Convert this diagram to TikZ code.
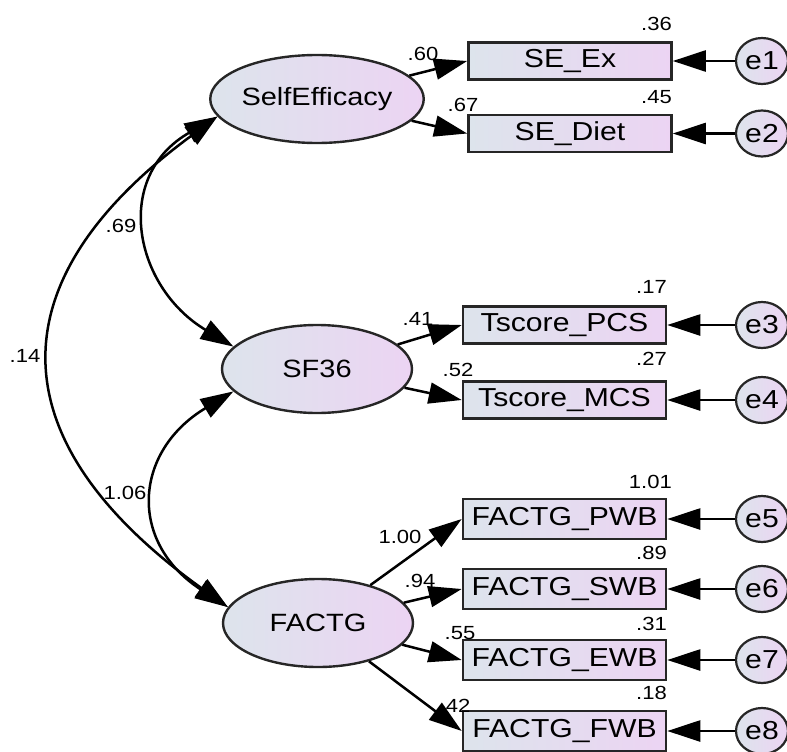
\documentclass[tikz,border=0pt]{standalone}
\usepackage{fontspec}
\setmainfont{Liberation Sans}[FakeStretch=1.16]
\usetikzlibrary{arrows.meta,shapes.geometric}
\definecolor{gA}{HTML}{DDE4EC}
\definecolor{gB}{HTML}{ECD4F3}
\begin{document}
\begin{tikzpicture}[x=1pt,y=-1pt,
  obs/.style={draw=black!85, line width=2.6pt, rectangle, minimum width=203pt, minimum height=37pt,
    left color=gA, right color=gB, font=\fontsize{26}{26}\selectfont, inner sep=0pt},
  lat/.style={draw=black!85, line width=2.4pt, ellipse, left color=gA, right color=gB,
    font=\fontsize{25}{25}\selectfont, inner sep=0pt},
  err/.style={draw=black!85, line width=2.2pt, ellipse, minimum width=52pt, minimum height=46pt,
    left color=gA, right color=gB, font=\fontsize{26}{26}\selectfont, inner sep=0pt},
  pth/.style={line width=2.5pt, -{Triangle[length=33pt,width=21pt]}},
  cov/.style={line width=2.5pt, {Triangle[length=33pt,width=21pt]}-{Triangle[length=33pt,width=21pt]}},
  num/.style={font=\fontsize{19}{19}\selectfont, inner sep=0pt}
]
\useasboundingbox (0,0) rectangle (787,752);
% latent variables
\node[lat, minimum width=178pt, minimum height=88pt] (SE) at (317,99) {SelfEfficacy};
\node[lat, minimum width=190pt, minimum height=88pt] (SF) at (317,369) {SF36};
\node[lat, minimum width=190pt, minimum height=88pt] (FA) at (318,623) {FACTG};
% observed
\node[obs] (x1) at (570,61) {SE\_Ex};
\node[obs] (x2) at (570,133.5) {SE\_Diet};
\node[obs] (x3) at (564.5,325) {Tscore\_PCS};
\node[obs] (x4) at (564.5,400) {Tscore\_MCS};
\node[obs, minimum height=40pt] (x5) at (564.5,519) {FACTG\_PWB};
\node[obs, minimum height=40pt] (x6) at (564.5,589) {FACTG\_SWB};
\node[obs, minimum height=40pt] (x7) at (564.5,660) {FACTG\_EWB};
\node[obs, minimum height=40pt] (x8) at (564.5,731) {FACTG\_FWB};
% errors
\node[err] (e1) at (762,61) {e1};
\node[err] (e2) at (762,133.5) {e2};
\node[err] (e3) at (762,325) {e3};
\node[err] (e4) at (762,400) {e4};
\node[err] (e5) at (762,519) {e5};
\node[err] (e6) at (762,589) {e6};
\node[err] (e7) at (762,660) {e7};
\node[err] (e8) at (762,731) {e8};
% loadings
\draw[pth] (SE) -- (x1.west);
\draw[pth] (SE) -- (x2.west);
\draw[pth] (SF) -- (x3.west);
\draw[pth] (SF) -- (x4.west);
\draw[pth] (FA) -- (x5.west);
\draw[pth] (FA) -- (x6.west);
\draw[pth] (FA) -- (x7.west);
\draw[pth] (FA) -- (x8.west);
% error paths
\foreach \i in {1,...,8}{\draw[pth] (e\i) -- (x\i.east);}
% covariances
\draw[cov] (SE.190) .. controls +(-105,60) and +(-100,-60) .. (SF.165);
\draw[cov] (SF.195) .. controls +(-100,60) and +(-100,-65) .. (FA.170);
\draw[cov] (SE.190) .. controls (-5,280) and (-5,440) .. (FA.170);
% numbers
\node[num, anchor=east] (n1) at (672,24) {.36};
\node[num] (n2) at (423,54) {.60};
\node[num, anchor=east] (n3) at (672,97) {.45};
\node[num] (n4) at (463,105) {.67};
\node[num] (n5) at (121,226) {.69};
\node[num, anchor=east] (n6) at (667,287) {.17};
\node[num] (n7) at (418,319) {.41};
\node[num] (n8) at (25,356) {.14};
\node[num, anchor=east] (n9) at (667,359) {.27};
\node[num] (n10) at (458,370) {.52};
\node[num, anchor=east] (n11) at (672,482) {1.01};
\node[num] (n12) at (125,493) {1.06};
\node[num] (n13) at (400,537) {1.00};
\node[num, anchor=east] (n14) at (667,553) {.89};
\node[num] (n15) at (420,581) {.94};
\node[num, anchor=east] (n16) at (667,624) {.31};
\node[num] (n17) at (460,633) {.55};
\node[num, anchor=east] (n18) at (667,693) {.18};
\node[num] (n19) at (455,706) {.42};
\end{tikzpicture}
\end{document}
